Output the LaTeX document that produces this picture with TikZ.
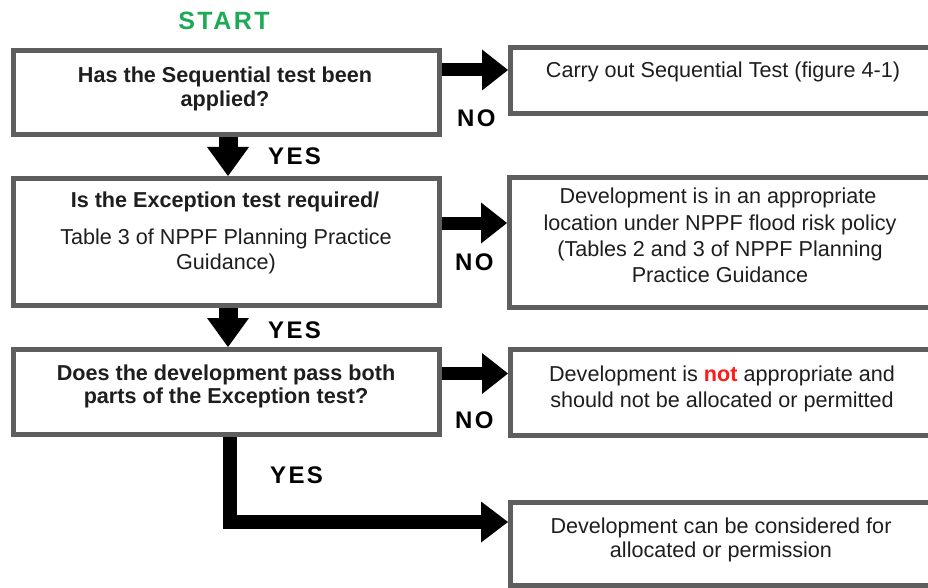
\documentclass[tikz,border=0pt]{standalone}
\usepackage{fontspec}
\setmainfont{Liberation Sans}
\newfontfamily\lblfont[LetterSpace=10]{Liberation Sans}
\usetikzlibrary{arrows.meta}
\definecolor{boxgray}{HTML}{5E5E5E}
\definecolor{startgreen}{HTML}{1DAA55}
\definecolor{txt}{HTML}{1E1E1E}
\definecolor{notred}{HTML}{FF1A1A}
\begin{document}
\begin{tikzpicture}[x=1pt,y=-1pt,
  box/.style={draw=boxgray, line width=5pt, fill=white, rectangle, inner sep=0pt},
  tl/.style={anchor=base, inner sep=0pt, text=txt, font=\fontsize{21.6}{25}\selectfont},
  tlb/.style={tl, font=\fontsize{21.6}{25}\selectfont\bfseries},
  lbl/.style={anchor=base west, inner sep=0pt, text=black, font=\fontsize{24}{28}\selectfont\lblfont\bfseries},
  harrow/.style={draw=black, line width=13pt, -{Triangle[length=26pt,width=41pt,line width=0pt]}},
  varrow/.style={draw=black, line width=19pt, -{Triangle[length=29pt,width=42pt,line width=0pt]}},
  elbow/.style={draw=black, line width=14pt, line join=miter, -{Triangle[length=27pt,width=41pt,line width=0pt]}}
]
\clip (0,0) rectangle (928,588);
\fill[white] (0,0) rectangle (928,588);

% title
\node[anchor=base, inner sep=0pt, text=startgreen, font=\fontsize{25}{30}\selectfont\lblfont\bfseries] (start) at (224,30) {START};

% left boxes
\node[box, minimum width=426pt, minimum height=84pt] (b1) at (226.5,92.5) {};
\node[box, minimum width=426pt, minimum height=127pt] (b2) at (226.5,242) {};
\node[box, minimum width=426pt, minimum height=85pt] (b3) at (226.5,392) {};

% right boxes (cut by the right edge)
\node[box, minimum width=437pt, minimum height=66pt] (r1) at (729,80.5) {};
\node[box, minimum width=438pt, minimum height=130pt] (r2) at (728.5,242.5) {};
\node[box, minimum width=437pt, minimum height=86pt] (r3) at (729,392.5) {};
\node[box, minimum width=437pt, minimum height=83pt] (r4) at (729,544) {};

% texts
\node[tlb] (t1a) at (225,83) {Has the Sequential test been};
\node[tlb] (t1b) at (225,107) {applied?};
\node[tlb] (t2a) at (225,207) {Is the Exception test required/};
\node[tl] (t2b) at (226,244) {Table 3 of NPPF Planning Practice};
\node[tl] (t2c) at (226,269) {Guidance)};
\node[tlb] (t3a) at (226,380) {Does the development pass both};
\node[tlb] (t3b) at (226,403.5) {parts of the Exception test?};

\node[tl] (s1) at (723,78) {Carry out Sequential Test (figure 4-1)};
\node[tl] (s2a) at (718,203) {Development is in an appropriate};
\node[tl] (s2b) at (720,230) {location under NPPF flood risk policy};
\node[tl] (s2c) at (720,256.5) {(Tables 2 and 3 of NPPF Planning};
\node[tl] (s2d) at (720,282) {Practice Guidance};
\node[tl] (s3a) at (722,381) {Development is \textcolor{notred}{\bfseries not} appropriate and};
\node[tl] (s3b) at (722,407) {should not be allocated or permitted};
\node[tl] (s4a) at (721,533) {Development can be considered for};
\node[tl] (s4b) at (721,557) {allocated or permission};

% connectors
\coordinate (y1) at (0,70);
\coordinate (y2) at (0,223);
\coordinate (y3) at (0,373.5);
\coordinate (y4) at (0,522);
\coordinate (xd) at (228,0);
\coordinate (xe) at (230,0);

\draw[harrow] (b1.east |- y1) -- (r1.west |- y1);
\draw[harrow] (b2.east |- y2) -- (r2.west |- y2);
\draw[harrow] (b3.east |- y3) -- (r3.west |- y3);
\draw[varrow] (b1.south -| xd) -- (b2.north -| xd);
\draw[varrow] (b2.south -| xd) -- (b3.north -| xd);
\draw[elbow] (b3.south -| xe) |- (r4.west |- y4);

% labels
\node[lbl] (no1) at (457,127) {NO};
\node[lbl] (no2) at (455,270) {NO};
\node[lbl] (no3) at (455,428) {NO};
\node[lbl] (yes1) at (268,165) {YES};
\node[lbl] (yes2) at (268,338) {YES};
\node[lbl] (yes3) at (270,483) {YES};
\end{tikzpicture}
\end{document}
